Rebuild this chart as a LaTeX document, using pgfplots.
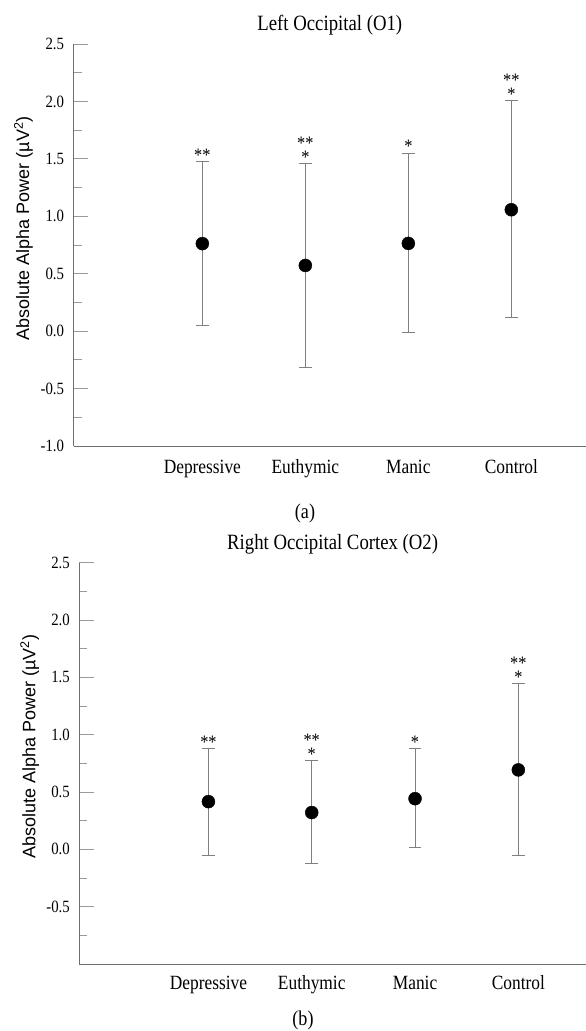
\documentclass[border=0pt]{standalone}
\usepackage{fontspec}
\setmainfont[FakeStretch=0.86]{Liberation Serif}
\setsansfont{Liberation Sans}
\usepackage{pgfplots}
\pgfplotsset{compat=1.18}
\definecolor{axisgray}{HTML}{6E6E6E}
\definecolor{tickgray}{HTML}{9A9A9A}
\definecolor{bargray}{HTML}{808080}
\tikzset{sig/.style={anchor=south, inner sep=0pt, font=\fontsize{19}{19}\selectfont},
         sigup/.style={sig, yshift=14pt}}
\pgfplotsset{
  panel/.style={
    scale only axis,
    anchor=south west,
    axis lines*=left,
    axis line style={color=axisgray, line width=1pt},
    xmin=-0.25, ymin=-1, ymax=2.5,
    xtick={1,2,3,4},
    xticklabels={Depressive,Euthymic,Manic,Control},
    xtick style={draw=none},
    tick align=inside,
    ytick style={color=tickgray, line width=0.9pt},
    minor tick style={color=tickgray, line width=0.9pt},
    major tick length=14.7pt,
    minor tick length=8pt,
    minor ytick={-0.75,-0.25,0.25,0.75,1.25,1.75,2.25},
    yticklabel style={font=\fontsize{17.2}{19}\selectfont, xshift=-6pt},
    xticklabel style={font=\fontsize{20.2}{22}\selectfont, anchor=base},
    title style={font=\fontsize{21.8}{24}\selectfont, at={(axis description cs:0.5,1)}, anchor=base, yshift=7.5pt},
    ylabel={Absolute Alpha Power (µV\textsuperscript{2})},
    ylabel style={font=\fontsize{18}{20}\selectfont\sffamily, at={(axis description cs:-0.098,0.542)}, anchor=center, rotate=0},
    clip=false,
  },
  ebar/.style={
    only marks,
    mark=*,
    mark size=6.5pt,
    mark options={fill=black, draw=black},
    error bars/.cd,
      y dir=both, y explicit,
      error bar style={color=bargray, line width=0.9pt},
      error mark options={rotate=90, mark size=6.3pt, color=bargray, line width=0.9pt},
  },
}
\begin{document}
\begin{tikzpicture}
\useasboundingbox (0,0) rectangle (586pt,-1031pt);

% ---------- Panel (a) ----------
\begin{axis}[panel,
  at={(73.6pt,-446pt)},
  width=512.4pt, height=402pt,
  xmax=4.725,
  ytick={-1,-0.5,0,0.5,1,1.5,2,2.5},
  yticklabels={-1.0,-0.5,0.0,0.5,1.0,1.5,2.0,2.5},
  xticklabel style={yshift=-27.8pt},
  title={Left Occipital (O1)},
]
\addplot+[ebar] table[x=x, y=y, y error plus=ep, y error minus=em] {
x y ep em
1 0.762 0.713 0.716
2 0.572 0.886 0.891
3 0.764 0.787 0.779
4 1.057 0.952 0.941
};
\node[sig] at (axis cs:1,1.475) {**};
\node[sig] at (axis cs:2,1.458) {*};
\node[sigup] at (axis cs:2,1.458) {**};
\node[sig] at (axis cs:3,1.551) {*};
\node[sig] at (axis cs:4,2.009) {*};
\node[sigup] at (axis cs:4,2.009) {**};
\end{axis}

% ---------- Panel (b) ----------
\begin{axis}[panel,
  at={(79.3pt,-964pt)},
  width=506.7pt, height=401.3pt,
  xmax=4.655,
  ytick={-0.5,0,0.5,1,1.5,2,2.5},
  yticklabels={-0.5,0.0,0.5,1.0,1.5,2.0,2.5},
  xticklabel style={yshift=-25.5pt},
  title={Right Occipital Cortex (O2)},
]
\addplot+[ebar] table[x=x, y=y, y error plus=ep, y error minus=em] {
x y ep em
1 0.416 0.463 0.466
2 0.321 0.451 0.448
3 0.442 0.434 0.424
4 0.693 0.752 0.743
};
\node[sig] at (axis cs:1,0.879) {**};
\node[sig] at (axis cs:2,0.772) {*};
\node[sigup] at (axis cs:2,0.772) {**};
\node[sig] at (axis cs:3,0.876) {*};
\node[sig] at (axis cs:4,1.445) {*};
\node[sigup] at (axis cs:4,1.445) {**};
\end{axis}

\node[anchor=base, font=\fontsize{21}{23}\selectfont] at (305pt,-518.7pt) {(a)};
\node[anchor=base, font=\fontsize{21}{23}\selectfont] at (303pt,-1025pt) {(b)};
\end{tikzpicture}
\end{document}
